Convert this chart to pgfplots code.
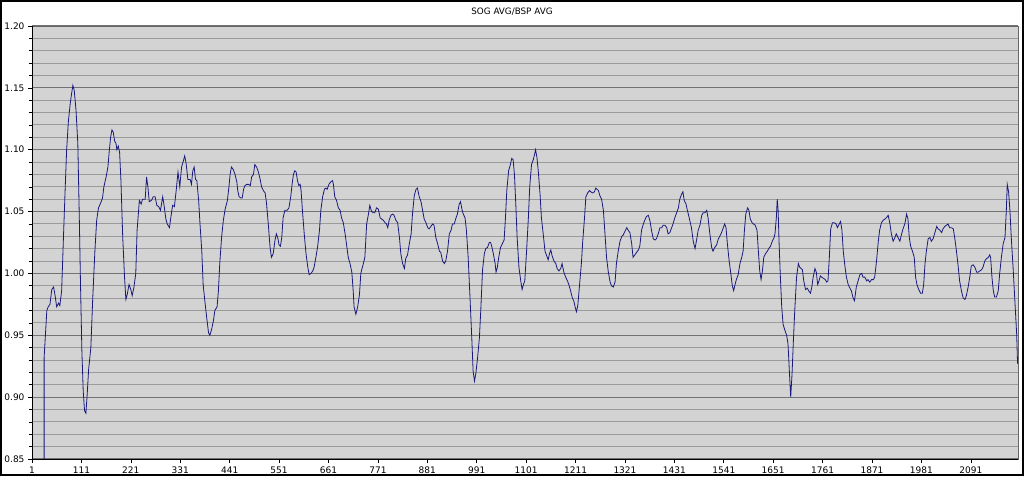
\documentclass[border=0pt]{standalone}
\usepackage{fontspec}
\setmainfont{DejaVu Sans}
\usepackage{pgfplots}
\pgfplotsset{compat=1.18}
\definecolor{plotbg}{RGB}{211,211,211}
\definecolor{gridminor}{RGB}{155,155,155}
\definecolor{gridmajor}{RGB}{115,115,115}
\definecolor{navyline}{RGB}{25,25,125}
\begin{document}
\begin{tikzpicture}[x=1pt,y=1pt]
\useasboundingbox (0,0) rectangle (1024,476);
\fill[white] (0,0) rectangle (1024,476);
\node[font=\fontsize{8.8}{10}\selectfont] at (512,464.5) {SOG AVG/BSP AVG};
\begin{axis}[
  at={(32pt,17pt)}, anchor=south west,
  width=986pt, height=433pt, scale only axis,
  xmin=1, xmax=2196, ymin=0.85, ymax=1.20,
  xtick={1,111,221,331,441,551,661,771,881,991,1101,1211,1321,1431,1541,1651,1761,1871,1981,2091},
  ytick={0.85,0.90,0.95,1.00,1.05,1.10,1.15,1.20},
  yticklabels={0.85,0.90,0.95,1.00,1.05,1.10,1.15,1.20},
  minor ytick={0.86,0.87,0.88,0.89,0.91,0.92,0.93,0.94,0.96,0.97,0.98,0.99,1.01,1.02,1.03,1.04,1.06,1.07,1.08,1.09,1.11,1.12,1.13,1.14,1.16,1.17,1.18,1.19},
  /pgf/number format/1000 sep={},
  /pgf/number format/assume math mode=true,
  tick label style={font=\fontsize{9}{10}\selectfont},
  tick align=outside, tick pos=left,
  major tick length=4pt, minor tick length=3pt,
  tick style={black, line width=0.6pt},
  ymajorgrids, yminorgrids,
  major grid style={draw=gridmajor, line width=1pt},
  minor grid style={draw=gridminor, line width=1pt},
  axis background/.style={fill=plotbg},
  axis line style={draw=gray!80!black, line width=0.8pt},
  after end axis/.code={
    \draw[black, line width=0.9pt] (rel axis cs:0,0) -- (rel axis cs:0,1);
    \draw[black, line width=0.9pt] (rel axis cs:0,0) -- (rel axis cs:1,0);
  },
]
\addplot[navyline, line width=0.8pt] table {
x y
28 0.85
28 0.932
34 0.970
37 0.973
41 0.975
45 0.987
49 0.989
52 0.983
56 0.973
60 0.976
63 0.974
67 0.986
71 1.029
75 1.070
78 1.099
82 1.123
86 1.137
89 1.145
92 1.152
95 1.148
99 1.132
103 1.105
106 1.051
109 0.991
112 0.938
115 0.905
118 0.889
121 0.887
124 0.903
127 0.922
132 0.940
136 0.978
141 1.018
145 1.043
149 1.053
154 1.057
158 1.061
161 1.070
166 1.078
170 1.086
173 1.099
176 1.110
179 1.116
182 1.114
185 1.107
188 1.105
190 1.100
193 1.103
196 1.098
199 1.075
203 1.029
207 0.997
210 0.979
213 0.983
217 0.991
221 0.987
224 0.982
228 0.989
232 1.000
235 1.035
240 1.059
244 1.056
247 1.060
253 1.060
256 1.078
259 1.070
262 1.058
267 1.059
271 1.062
275 1.062
279 1.055
283 1.054
287 1.051
292 1.062
295 1.055
299 1.044
302 1.040
307 1.037
310 1.045
314 1.055
318 1.054
322 1.067
326 1.082
330 1.070
334 1.086
338 1.091
341 1.095
344 1.089
348 1.076
353 1.076
356 1.072
359 1.083
362 1.086
365 1.076
368 1.075
372 1.059
375 1.040
379 1.018
382 0.991
386 0.977
390 0.964
394 0.952
397 0.950
401 0.955
405 0.962
408 0.970
413 0.973
416 0.986
419 1.008
423 1.029
427 1.043
431 1.052
436 1.059
440 1.072
442 1.080
445 1.086
449 1.084
453 1.080
457 1.074
459 1.067
462 1.062
466 1.061
469 1.061
472 1.068
475 1.071
479 1.072
483 1.072
487 1.071
490 1.078
494 1.080
497 1.088
501 1.086
505 1.082
509 1.076
512 1.070
516 1.067
520 1.065
523 1.057
527 1.040
531 1.021
534 1.013
538 1.016
542 1.027
545 1.032
548 1.029
551 1.023
554 1.022
557 1.029
560 1.045
564 1.051
569 1.051
573 1.053
577 1.062
580 1.072
583 1.080
586 1.083
589 1.082
592 1.075
595 1.071
598 1.072
600 1.067
603 1.051
607 1.032
611 1.016
615 1.005
618 0.999
622 1.000
626 1.002
629 1.005
633 1.013
637 1.022
641 1.035
644 1.051
648 1.062
652 1.068
655 1.069
658 1.068
662 1.072
666 1.074
670 1.075
672 1.072
675 1.062
679 1.059
683 1.053
687 1.051
690 1.045
694 1.041
698 1.032
701 1.024
705 1.013
709 1.008
713 1.001
716 0.986
718 0.973
722 0.967
726 0.973
730 0.983
733 1.000
735 1.003
738 1.007
742 1.013
746 1.040
750 1.048
753 1.055
757 1.050
761 1.049
764 1.049
768 1.053
772 1.052
776 1.045
779 1.044
783 1.043
787 1.041
790 1.040
793 1.037
796 1.043
800 1.047
804 1.048
807 1.047
811 1.043
815 1.041
819 1.029
822 1.016
826 1.008
830 1.004
833 1.012
837 1.015
841 1.024
845 1.032
848 1.048
852 1.063
856 1.068
859 1.069
863 1.062
867 1.058
871 1.050
874 1.044
878 1.041
882 1.037
885 1.036
889 1.038
893 1.040
896 1.039
900 1.029
904 1.024
908 1.018
911 1.017
915 1.010
919 1.008
922 1.010
926 1.018
930 1.032
934 1.035
937 1.040
941 1.040
945 1.045
948 1.048
952 1.056
955 1.058
958 1.052
961 1.048
965 1.045
968 1.035
972 1.013
976 0.981
980 0.948
983 0.921
986 0.913
989 0.919
993 0.932
997 0.948
1000 0.970
1004 1.003
1008 1.016
1011 1.020
1015 1.021
1019 1.025
1022 1.025
1025 1.021
1028 1.016
1032 1.008
1034 1.001
1037 1.005
1040 1.013
1044 1.021
1048 1.024
1052 1.027
1055 1.045
1058 1.067
1062 1.083
1066 1.088
1069 1.093
1072 1.092
1075 1.080
1078 1.056
1081 1.029
1085 1.005
1089 0.994
1092 0.987
1095 0.991
1098 0.994
1102 1.018
1106 1.045
1109 1.070
1113 1.088
1117 1.092
1119 1.095
1122 1.100
1125 1.094
1128 1.083
1132 1.064
1135 1.045
1139 1.032
1143 1.018
1147 1.014
1150 1.011
1153 1.016
1156 1.019
1159 1.014
1163 1.010
1167 1.008
1170 1.004
1174 1.002
1178 1.004
1181 1.008
1185 1.001
1189 0.997
1193 0.994
1196 0.991
1200 0.986
1204 0.980
1207 0.978
1210 0.973
1213 0.969
1216 0.974
1220 0.991
1224 1.008
1227 1.026
1231 1.045
1234 1.062
1238 1.065
1242 1.067
1245 1.066
1249 1.065
1253 1.066
1256 1.069
1259 1.068
1262 1.067
1265 1.063
1269 1.060
1273 1.051
1276 1.035
1280 1.013
1284 1.001
1288 0.993
1291 0.990
1295 0.989
1299 0.993
1302 1.008
1306 1.018
1310 1.026
1314 1.030
1317 1.031
1321 1.034
1325 1.037
1328 1.035
1332 1.033
1336 1.024
1339 1.013
1343 1.015
1347 1.017
1351 1.019
1354 1.022
1358 1.035
1362 1.040
1365 1.043
1369 1.046
1373 1.047
1377 1.042
1380 1.035
1384 1.028
1388 1.027
1391 1.028
1395 1.032
1399 1.037
1403 1.037
1406 1.039
1410 1.039
1414 1.037
1417 1.032
1421 1.033
1425 1.037
1428 1.040
1432 1.045
1436 1.049
1440 1.053
1443 1.060
1447 1.064
1450 1.066
1453 1.059
1457 1.056
1460 1.051
1464 1.045
1469 1.037
1473 1.026
1477 1.020
1480 1.026
1484 1.035
1488 1.039
1492 1.047
1495 1.049
1499 1.049
1503 1.051
1506 1.045
1510 1.032
1514 1.021
1517 1.018
1521 1.021
1525 1.023
1529 1.028
1532 1.030
1536 1.033
1540 1.037
1543 1.040
1546 1.037
1549 1.024
1553 1.010
1557 0.999
1560 0.990
1563 0.986
1566 0.991
1569 0.995
1573 0.999
1577 1.008
1581 1.013
1584 1.018
1587 1.035
1590 1.048
1594 1.053
1597 1.051
1600 1.044
1604 1.041
1607 1.040
1611 1.039
1615 1.035
1618 1.018
1621 1.002
1624 0.995
1627 1.002
1630 1.013
1634 1.016
1638 1.018
1641 1.020
1645 1.022
1649 1.026
1653 1.029
1655 1.032
1658 1.045
1660 1.060
1662 1.051
1664 1.026
1667 0.997
1670 0.973
1673 0.959
1677 0.954
1681 0.950
1684 0.943
1687 0.921
1690 0.900
1693 0.919
1696 0.946
1699 0.970
1703 0.997
1707 1.008
1710 1.005
1713 1.004
1716 1.003
1719 0.994
1723 0.987
1727 0.988
1730 0.986
1734 0.984
1737 0.989
1740 0.997
1744 1.004
1747 1.001
1750 0.991
1753 0.994
1756 0.998
1759 0.997
1763 0.996
1767 0.995
1770 0.993
1773 0.994
1776 1.013
1779 1.036
1783 1.041
1787 1.041
1791 1.040
1794 1.037
1798 1.040
1801 1.042
1804 1.035
1807 1.018
1811 1.005
1814 0.997
1818 0.991
1822 0.988
1825 0.986
1829 0.980
1832 0.978
1836 0.989
1840 0.994
1844 0.999
1848 1.000
1851 0.997
1855 0.997
1859 0.994
1862 0.995
1866 0.993
1870 0.995
1874 0.995
1877 0.997
1881 1.010
1885 1.026
1888 1.035
1892 1.041
1896 1.043
1900 1.044
1903 1.045
1907 1.047
1911 1.040
1914 1.032
1918 1.026
1922 1.029
1925 1.032
1929 1.029
1933 1.026
1937 1.032
1940 1.036
1944 1.040
1948 1.048
1951 1.044
1954 1.029
1957 1.022
1961 1.018
1965 1.013
1968 0.997
1971 0.991
1975 0.987
1979 0.984
1983 0.984
1986 0.991
1989 1.008
1992 1.018
1996 1.028
2000 1.029
2003 1.026
2007 1.028
2011 1.033
2015 1.038
2018 1.036
2022 1.035
2026 1.033
2029 1.036
2033 1.038
2037 1.039
2040 1.040
2044 1.037
2048 1.037
2052 1.036
2055 1.029
2059 1.018
2063 1.005
2066 0.994
2070 0.986
2074 0.980
2078 0.979
2081 0.982
2085 0.989
2089 0.998
2092 1.006
2096 1.007
2100 1.005
2104 1.001
2107 1.001
2111 1.002
2115 1.003
2118 1.005
2122 1.010
2126 1.012
2130 1.013
2133 1.015
2135 1.013
2138 0.997
2141 0.986
2144 0.981
2148 0.981
2152 0.986
2155 0.999
2159 1.013
2163 1.024
2167 1.029
2170 1.051
2172 1.072
2175 1.066
2178 1.051
2181 1.029
2185 1.005
2189 0.978
2193 0.951
2195 0.927
};
\end{axis}
\draw[black, line width=2pt] (1,1) rectangle (1023,475);
\end{tikzpicture}
\end{document}
